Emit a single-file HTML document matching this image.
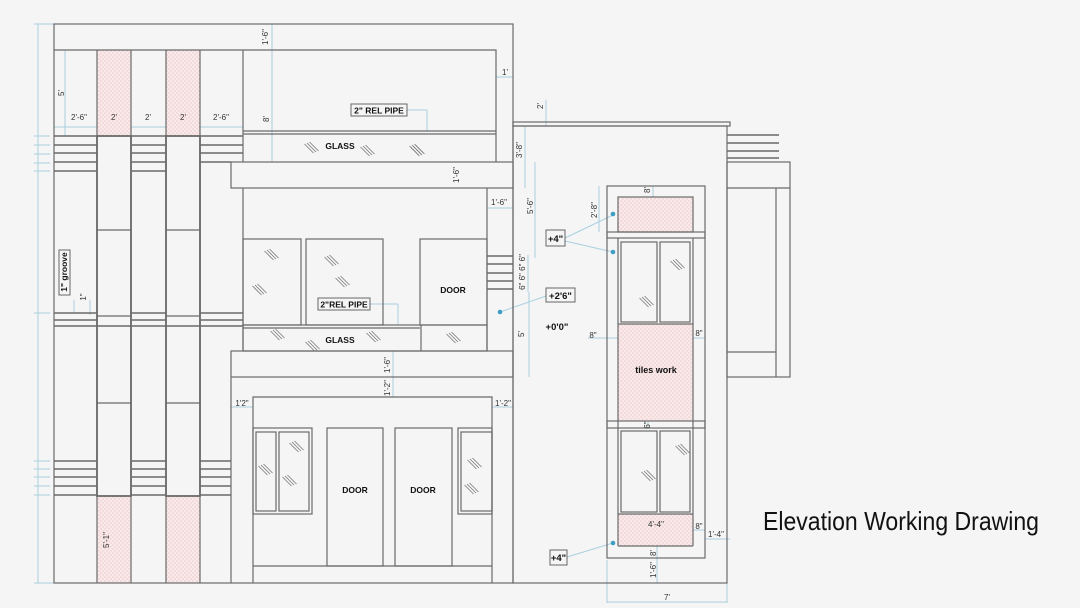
<!DOCTYPE html>
<html><head><meta charset="utf-8"><style>
html,body{margin:0;padding:0;background:#f5f5f5;}
svg{display:block;}
text{font-family:"Liberation Sans",sans-serif;}
</style></head><body>
<svg width="1080" height="608" viewBox="0 0 1080 608" xmlns="http://www.w3.org/2000/svg">
<defs>
<pattern id="pk" width="4" height="4" patternUnits="userSpaceOnUse">
<rect width="4" height="4" fill="#f8eaea"/><circle cx="1" cy="1" r="0.7" fill="#eec4c4"/><circle cx="3" cy="3" r="0.7" fill="#eec4c4"/>
</pattern>
<g id="h"><line x1="0" y1="0" x2="9" y2="9"/><line x1="2.5" y1="-1" x2="11.5" y2="8"/><line x1="-2.5" y1="1" x2="6.5" y2="10"/></g>
</defs>
<rect width="1080" height="608" fill="#f5f5f5"/>

<g stroke="#a9d0e0" stroke-width="1" fill="none">
<line x1="38" y1="24" x2="38" y2="583"/>
<line x1="34" y1="583" x2="54" y2="583"/>
<line x1="34" y1="24" x2="54" y2="24"/>
<line x1="65" y1="50" x2="65" y2="136"/>
<line x1="54" y1="127" x2="243" y2="127"/>
<line x1="272" y1="24" x2="272" y2="50"/>
<line x1="272" y1="50" x2="272" y2="188"/>
<line x1="496" y1="77" x2="513" y2="77"/>
<line x1="407" y1="110" x2="427" y2="110"/><line x1="427" y1="110" x2="427" y2="131"/>
<line x1="370" y1="304" x2="398" y2="304"/><line x1="398" y1="304" x2="398" y2="325"/>
<line x1="462" y1="162" x2="462" y2="188"/>
<line x1="525" y1="126" x2="525" y2="188"/>
<line x1="546" y1="100" x2="546" y2="126"/>
<line x1="487" y1="208" x2="513" y2="208"/>
<line x1="535" y1="162" x2="535" y2="258"/>
<line x1="528" y1="255" x2="528" y2="292"/>
<line x1="529" y1="292" x2="529" y2="377"/>
<line x1="599" y1="186" x2="599" y2="232"/>
<line x1="653" y1="186" x2="653" y2="197"/>
<line x1="565" y1="238" x2="613" y2="215"/><line x1="565" y1="241" x2="613" y2="252"/>
<line x1="546" y1="296" x2="500" y2="312"/>
<line x1="567" y1="557" x2="613" y2="543"/>
<line x1="588" y1="338" x2="618" y2="338"/><line x1="693" y1="338" x2="705" y2="338"/>
<line x1="393" y1="351" x2="393" y2="397"/>
<line x1="231" y1="407" x2="253" y2="407"/><line x1="492" y1="407" x2="513" y2="407"/>
<line x1="110" y1="496" x2="110" y2="583"/>
<line x1="618" y1="530" x2="693" y2="530"/><line x1="693" y1="530" x2="705" y2="530"/>
<line x1="705" y1="539" x2="730" y2="539"/>
<line x1="657" y1="546" x2="657" y2="583"/>
<line x1="607" y1="560" x2="607" y2="603"/><line x1="727" y1="560" x2="727" y2="603"/>
<line x1="607" y1="602" x2="727" y2="602"/>
<line x1="648" y1="421" x2="648" y2="428"/>
<line x1="74" y1="300" x2="74" y2="313"/><line x1="90" y1="300" x2="90" y2="315"/>
<g><line x1="34" y1="136" x2="50" y2="136"/><line x1="34" y1="145" x2="50" y2="145"/><line x1="34" y1="154" x2="50" y2="154"/><line x1="34" y1="163" x2="50" y2="163"/><line x1="34" y1="171" x2="50" y2="171"/>
<line x1="34" y1="461" x2="50" y2="461"/><line x1="34" y1="469" x2="50" y2="469"/><line x1="34" y1="477" x2="50" y2="477"/><line x1="34" y1="486" x2="50" y2="486"/><line x1="34" y1="495" x2="50" y2="495"/><line x1="34" y1="313" x2="50" y2="313"/></g>
</g>

<g fill="url(#pk)">
<rect x="97" y="50" width="34" height="86"/><rect x="166" y="50" width="34" height="86"/>
<rect x="97" y="496" width="34" height="87"/><rect x="166" y="496" width="34" height="87"/>
<rect x="618" y="197" width="75" height="35"/>
<rect x="618" y="324" width="75" height="97"/>
<rect x="618" y="514" width="75" height="32"/>
</g>

<g stroke="#6a6a6a" stroke-width="1.2" fill="none">
<rect x="54" y="24" width="459" height="559"/>
<polyline points="54,50 496,50 496,162"/>
<line x1="97" y1="50" x2="97" y2="583"/><line x1="131" y1="50" x2="131" y2="583"/>
<line x1="166" y1="50" x2="166" y2="583"/><line x1="200" y1="50" x2="200" y2="583"/>
<line x1="243" y1="50" x2="243" y2="162"/>
<rect x="97" y="136" width="34" height="360" stroke-width="1.8"/>
<rect x="166" y="136" width="34" height="360" stroke-width="1.8"/>
<line x1="97" y1="230" x2="131" y2="230"/><line x1="166" y1="230" x2="200" y2="230"/>
<line x1="97" y1="403" x2="131" y2="403"/><line x1="166" y1="403" x2="200" y2="403"/>
<line x1="97" y1="316" x2="131" y2="316"/><line x1="166" y1="316" x2="200" y2="316"/>
<g stroke-width="1.6">
<path d="M54 136H97M54 145H97M54 153H97M54 162H97M54 171H97M131 136H166M131 145H166M131 153H166M131 162H166M131 171H166M200 136H243M200 145H243M200 153H243M200 162H231"/>
<path d="M54 313H97M54 320H97M131 313H166M131 320H166M200 313H243M200 320H243M54 326H243"/>
<path d="M54 461H97M54 469H97M54 477H97M54 486H97M54 495H97M131 461H166M131 469H166M131 477H166M131 486H166M131 495H166M200 461H231M200 469H231M200 477H231M200 486H231M200 495H231"/>
</g>
<line x1="243" y1="131" x2="496" y2="131"/><line x1="243" y1="134" x2="496" y2="134"/>
<rect x="231" y="162" width="282" height="26" fill="#f5f5f5"/>
<line x1="243" y1="188" x2="243" y2="351"/><line x1="487" y1="188" x2="487" y2="351"/>
<rect x="243" y="239" width="58" height="86"/>
<rect x="306" y="239" width="77" height="86"/>
<rect x="420" y="239" width="67" height="86"/>
<rect x="243" y="325" width="244" height="26"/>
<line x1="421" y1="325" x2="421" y2="351"/>
<line x1="243" y1="328" x2="420" y2="328"/>
<rect x="231" y="351" width="282" height="26"/>
<line x1="231" y1="377" x2="231" y2="583"/>
<polyline points="253,583 253,397 492,397 492,583"/>
<line x1="253" y1="566" x2="492" y2="566"/>
<rect x="253" y="428" width="59" height="86"/>
<rect x="256" y="432" width="20" height="79"/><rect x="279" y="432" width="30" height="79"/>
<rect x="327" y="428" width="56" height="138"/>
<rect x="395" y="428" width="57" height="138"/>
<rect x="458" y="428" width="34" height="86"/><rect x="461" y="432" width="31" height="79"/>
<g stroke-width="1.6"><path d="M487 256H513M487 264H513M487 273H513M487 281H513M487 289H513"/></g>
<rect x="513" y="122" width="217" height="4"/>
<rect x="513" y="126" width="214" height="457"/>
<g stroke-width="1.6"><path d="M727 135H779M727 143H779M727 151H779M727 158H779"/></g>
<rect x="727" y="162" width="63" height="215"/>
<line x1="727" y1="188" x2="790" y2="188"/><line x1="776" y1="188" x2="776" y2="377"/>
<line x1="727" y1="352" x2="776" y2="352"/>
<rect x="607" y="186" width="98" height="372"/>
<rect x="618" y="197" width="75" height="35"/>
<rect x="607" y="232" width="98" height="6"/>
<line x1="618" y1="238" x2="618" y2="546"/><line x1="693" y1="238" x2="693" y2="546"/>
<rect x="621" y="242" width="36" height="80"/><rect x="660" y="242" width="30" height="80"/>
<line x1="618" y1="324" x2="693" y2="324"/>
<rect x="607" y="421" width="98" height="7"/>
<rect x="621" y="431" width="36" height="81"/><rect x="660" y="431" width="30" height="81"/>
<line x1="618" y1="514" x2="693" y2="514"/><line x1="618" y1="546" x2="693" y2="546"/>
</g>

<g stroke="#777" stroke-width="0.8" fill="none">
<use href="#h" x="307" y="143"/><use href="#h" x="363" y="146"/><use href="#h" x="412" y="145"/><use href="#h" x="413" y="146"/>
<use href="#h" x="267" y="250"/><use href="#h" x="255" y="285"/><use href="#h" x="327" y="256"/><use href="#h" x="338" y="277"/>
<use href="#h" x="273" y="330"/><use href="#h" x="308" y="341"/><use href="#h" x="369" y="332"/><use href="#h" x="449" y="333"/>
<use href="#h" x="292" y="442"/><use href="#h" x="261" y="465"/><use href="#h" x="285" y="476"/><use href="#h" x="470" y="459"/><use href="#h" x="467" y="484"/>
<use href="#h" x="673" y="260"/><use href="#h" x="642" y="297"/><use href="#h" x="678" y="445"/><use href="#h" x="644" y="471"/>
</g>

<g fill="#3c9ec4"><circle cx="613" cy="214" r="2.3"/><circle cx="613" cy="252" r="2.3"/><circle cx="500" cy="312" r="2.3"/><circle cx="613" cy="543" r="2.3"/></g>

<g fill="#f5f5f5" stroke="#666" stroke-width="1">
<rect x="351" y="104" width="56" height="12"/>
<rect x="318" y="298" width="52" height="12"/>
<rect x="59" y="250" width="11" height="45"/>
<rect x="546" y="230" width="19" height="16"/>
<rect x="546" y="288" width="29" height="14"/>
<rect x="550" y="550" width="17" height="15"/>
</g>

<g font-size="8" fill="#333">
<text x="79" y="120" text-anchor="middle">2'-6"</text>
<text x="114" y="120" text-anchor="middle">2'</text>
<text x="148" y="120" text-anchor="middle">2'</text>
<text x="183" y="120" text-anchor="middle">2'</text>
<text x="221" y="120" text-anchor="middle">2'-6"</text>
<text x="505" y="75" text-anchor="middle">1'</text>
<text x="499" y="205" text-anchor="middle">1'-6"</text>
<text x="593" y="338" text-anchor="middle">8"</text>
<text x="699" y="336" text-anchor="middle">8"</text>
<text x="242" y="406" text-anchor="middle">1'2"</text>
<text x="503" y="406" text-anchor="middle">1'-2"</text>
<text x="656" y="527" text-anchor="middle">4'-4"</text>
<text x="699" y="529" text-anchor="middle">8"</text>
<text x="716" y="537" text-anchor="middle">1'-4"</text>
<text x="667" y="600" text-anchor="middle">7'</text>
<text x="83" y="300" text-anchor="middle" transform="rotate(-90 83 297)">1"</text>
<text transform="translate(268,37) rotate(-90)" text-anchor="middle">1'-6"</text>
<text transform="translate(64,93) rotate(-90)" text-anchor="middle">5'</text>
<text transform="translate(269,119) rotate(-90)" text-anchor="middle">8'</text>
<text transform="translate(459,175) rotate(-90)" text-anchor="middle">1'-6"</text>
<text transform="translate(522,150) rotate(-90)" text-anchor="middle">3'-8"</text>
<text transform="translate(543,106) rotate(-90)" text-anchor="middle">2'</text>
<text transform="translate(533,206) rotate(-90)" text-anchor="middle">5'-6"</text>
<text transform="translate(597,210) rotate(-90)" text-anchor="middle">2'-8"</text>
<text transform="translate(650,190) rotate(-90)" text-anchor="middle">8'</text>
<text transform="translate(525,272) rotate(-90)" text-anchor="middle">6" 6" 6" 6"</text>
<text transform="translate(524,334) rotate(-90)" text-anchor="middle">5'</text>
<text transform="translate(390,365) rotate(-90)" text-anchor="middle">1'-6"</text>
<text transform="translate(390,388) rotate(-90)" text-anchor="middle">1'-2"</text>
<text transform="translate(109,540) rotate(-90)" text-anchor="middle">5'-1"</text>
<text transform="translate(650,425) rotate(-90)" text-anchor="middle">6"</text>
<text transform="translate(656,553) rotate(-90)" text-anchor="middle">8'</text>
<text transform="translate(656,570) rotate(-90)" text-anchor="middle">1'-6"</text>
</g>

<g font-size="8.5" font-weight="bold" fill="#111">
<text x="379" y="113.5" text-anchor="middle">2" REL PIPE</text>
<text x="344" y="307.5" text-anchor="middle">2"REL PIPE</text>
<text x="340" y="149" text-anchor="middle">GLASS</text>
<text x="340" y="343" text-anchor="middle">GLASS</text>
<text x="453" y="293" text-anchor="middle">DOOR</text>
<text x="355" y="493" text-anchor="middle">DOOR</text>
<text x="423" y="493" text-anchor="middle">DOOR</text>
<text x="656" y="373" text-anchor="middle" font-size="9">tiles work</text>
<text transform="translate(67,272) rotate(-90)" text-anchor="middle">1" groove</text>
<text x="555.5" y="242" text-anchor="middle" font-size="9.5">+4"</text>
<text x="560.5" y="299" text-anchor="middle" font-size="9.5">+2'6"</text>
<text x="558.5" y="561" text-anchor="middle" font-size="9.5">+4"</text>
<text x="557" y="330" text-anchor="middle" font-size="9.5">+0'0"</text>
</g>

<text x="763" y="530" font-family="'Liberation Sans Narrow','Liberation Sans',sans-serif" font-size="26" fill="#111" textLength="276" lengthAdjust="spacingAndGlyphs">Elevation Working Drawing</text>
</svg>
</body></html>
